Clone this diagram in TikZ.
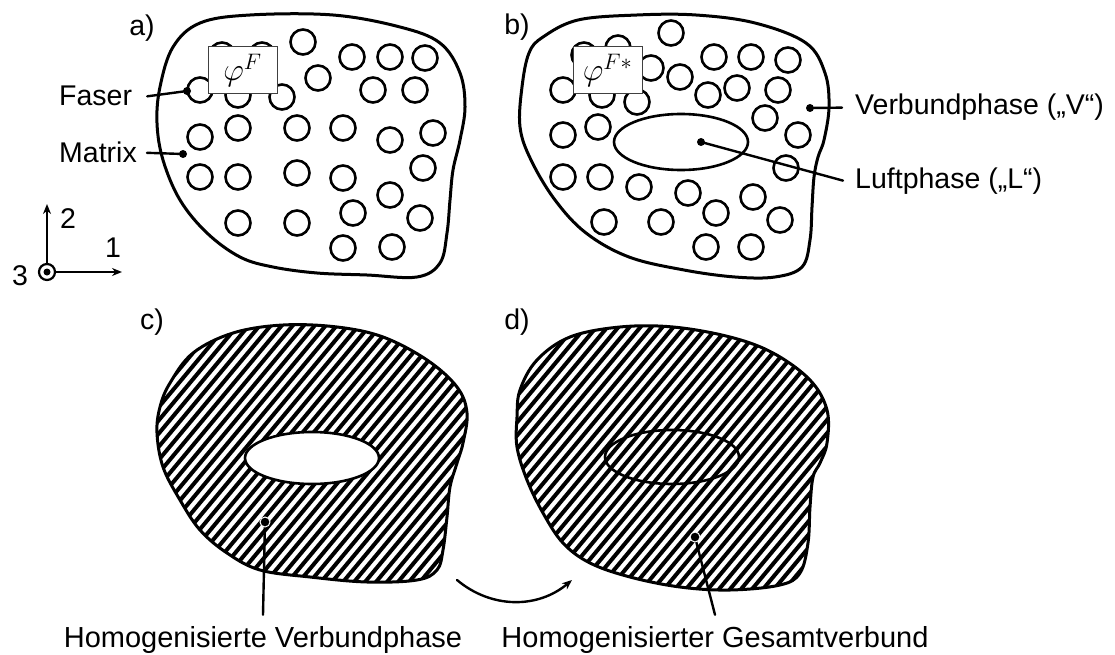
\documentclass[tikz,border=0pt]{standalone}
\usepackage{fix-cm}
\usepackage{fontspec}
\setmainfont{Liberation Sans}
\usetikzlibrary{arrows.meta}

% outlines of the four cross sections
\newcommand\outlinea{plot[smooth cycle, tension=.6] coordinates {(173,47) (200,23) (250,15) (333,15) (400,27) (440,43) (460,73) (465,107) (460,140) (453,170) (450,200) (447,233) (440,263) (417,277) (367,275) (317,273) (273,267) (240,257) (207,233) (180,200) (163,160) (157,123) (160,87)}}
\newcommand\outlineb{plot[smooth cycle, tension=.6] coordinates {(529,53) (543,37) (578,20) (637,15) (696,15) (755,23) (806,43) (825,73) (829,107) (824,140) (818,157) (814,177) (812,207) (810,240) (802,267) (775,277) (735,277) (684,270) (629,257) (586,233) (555,200) (531,160) (520,127) (522,87)}}
\newcommand\outlinec{plot[smooth cycle, tension=.6] coordinates {(170,383) (193,353) (233,333) (283,325) (337,327) (383,337) (427,360) (457,387) (467,413) (463,443) (457,463) (450,487) (447,517) (443,550) (437,570) (417,580) (367,582) (310,577) (260,570) (227,553) (200,530) (180,500) (163,467) (157,433) (160,407)}}
\newcommand\outlined{plot[smooth cycle, tension=.6] coordinates {(520,390) (537,360) (570,337) (620,327) (673,327) (730,337) (773,353) (810,380) (827,410) (827,443) (820,463) (813,477) (810,507) (808,543) (800,573) (780,585) (730,590) (680,587) (630,577) (590,563) (563,543) (543,513) (527,480) (517,447) (517,417)}}

\tikzset{
  blob/.style={line width=3pt, line join=round},
  fibre/.style={line width=2.6pt},
  hatchline/.style={line width=4pt},
  pore/.style={line width=2.6pt},
  pointer/.style={line width=2.4pt},
  lbl/.style={font=\fontsize{28.5}{34}\selectfont, inner sep=0pt},
  phibox/.style={draw=black!75, line width=1pt, fill=white, minimum width=69pt, minimum height=47pt, inner sep=0pt, font=\fontsize{32}{38}\selectfont},
}

\begin{document}
\begin{tikzpicture}[x=1pt, y=-1pt, line cap=round, >={Stealth[length=10pt,width=8pt]}]
\useasboundingbox (0,0) rectangle (1115,655);

% a) fibres in matrix
\draw[blob] \outlinea;
\foreach \x/\y in {303/42,222/55,262/55,352/57,390/57,425/58,318/78,373/90,415/90,200/90,238/95,282/97,
  200/137,238/128,297/128,343/128,390/140,433/133,200/177,238/177,297/173,343/178,423/168,390/195,
  238/223,297/223,353/213,420/218,343/248,392/247}
  \draw[fibre] (\x,\y) circle[radius=12.5pt];
\node[phibox] (phia) at (242.5,70.5) {$\varphi^{F}$};
\node[lbl] (labela) at (142,28) {a)};
\node[lbl, anchor=base west] (faser) at (59,106) {Faser};
\node[lbl, anchor=base west] (matrix) at (59,163) {Matrix};
\coordinate (faserdot) at (187,91);
\coordinate (matrixdot) at (183,154);
\draw[pointer] ([xshift=15pt]faser.east) -- (faserdot);
\draw[pointer] ([xshift=10pt]matrix.east) -- (matrixdot);
\fill (faserdot) circle[radius=4pt] (matrixdot) circle[radius=4pt];

% b) fibres, matrix and air
\draw[blob] \outlineb;
\foreach \x/\y in {671/33,584/55,618/48,651/68,714/57,751/57,788/60,680/77,563/90,602/95,637/102,
  708/95,737/88,778/90,765/118,798/135,563/135,598/127,786/168,563/177,600/177,639/187,688/193,
  753/197,716/213,604/222,661/222,780/220,706/247,751/247}
  \draw[fibre] (\x,\y) circle[radius=12.5pt];
\draw[pore] (681,142) ellipse[x radius=67pt, y radius=28pt];
\node[phibox] (phib) at (607.5,70.5) {$\varphi^{F*}$};
\node[lbl] (labelb) at (517,27) {b)};
\node[lbl, anchor=base west] (verbund) at (855,115) {Verbundphase („V“)};
\node[lbl, anchor=base west] (luft) at (855,188) {Luftphase („L“)};
\coordinate (verbunddot) at (810,108);
\coordinate (luftdot) at (701,142);
\draw[pointer] (verbunddot) -- ([xshift=-13pt]verbund.west);
\draw[pointer] (luftdot) -- ([xshift=-12pt]luft.west);
\fill (verbunddot) circle[radius=4pt] (luftdot) circle[radius=4pt];

% c) homogenised composite phase with pore
\begin{scope}
  \clip \outlinec;
  \foreach \s in {-90,-79,...,480} \draw[hatchline] (\s,600) -- ++(250,-300);
\end{scope}
\draw[blob] \outlinec;
\draw[pore, fill=white] (312,458) ellipse[x radius=67pt, y radius=26pt];
\node[lbl] (labelc) at (152,322) {c)};
\coordinate (cdot) at (265,522);
\node[lbl, anchor=base, font=\fontsize{29}{34}\selectfont] (homverb) at (263,647) {Homogenisierte Verbundphase};
\draw[pointer] (cdot) -- ([yshift=11pt]homverb.north);
\filldraw[draw=white, line width=1pt] (cdot) circle[radius=5pt];

% d) homogenised whole composite
\begin{scope}
  \clip \outlined;
  \foreach \s in {-60,-49,...,860} \draw[hatchline] (\s,600) -- ++(250,-300);
\end{scope}
\draw[blob] \outlined;
\draw[pore] (672,457) ellipse[x radius=67pt, y radius=27pt];
\node[lbl] (labeld) at (517,322) {d)};
\coordinate (ddot) at (695,537);
\node[lbl, anchor=base, font=\fontsize{29}{34}\selectfont] (homges) at (715,647) {Homogenisierter Gesamtverbund};
\draw[pointer] (ddot) -- ([yshift=11pt]homges.north);
\filldraw[draw=white, line width=1pt] (ddot) circle[radius=5pt];

% c -> d
\coordinate (ctodstart) at (457,580);
\coordinate (ctodend) at (572,580);
\draw[pointer, ->] (ctodstart) to[bend right=40] (ctodend);

% coordinate system
\coordinate (origin) at (47,272);
\draw[line width=2.2pt] (origin) circle[radius=8pt];
\fill (origin) circle[radius=3.5pt];
\draw[pointer, ->] ([yshift=8pt]origin) -- ++(0,-60);
\draw[pointer, ->] ([xshift=8pt]origin) -- ++(67,0);
\node[lbl, anchor=base west] (axtwo) at (60,228) {2};
\node[lbl, anchor=base west] (axone) at (105,257) {1};
\node[lbl, anchor=base west] (axthree) at (12,285) {3};
\end{tikzpicture}
\end{document}
